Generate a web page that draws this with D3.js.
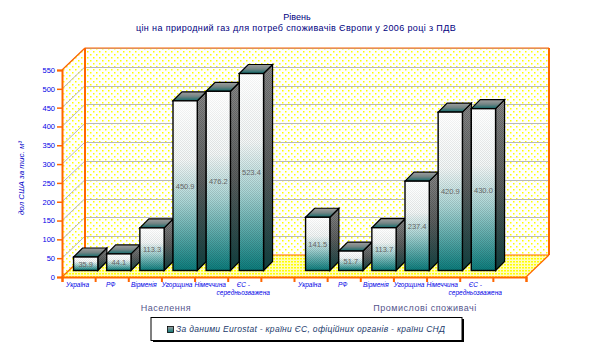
<!DOCTYPE html>
<html>
<head>
<meta charset="utf-8">
<script src="https://cdn.jsdelivr.net/npm/d3@7"></script>
<style>
  html, body { margin: 0; padding: 0; background: #fff; }
  svg { display: block; }
  text { font-family: "Liberation Sans", Arial, sans-serif; }
</style>
</head>
<body>
<div id="chart"></div>
<script>
const categories = ["Україна", "РФ", "Вірменія", "Угорщина", "Німеччина", "ЄС -|середньозважена"];
const populationValues = [35.9, 44.1, 113.3, 450.9, 476.2, 523.4];
const industryValues = [141.5, 51.7, 113.7, 237.4, 420.9, 430.0];
const groupLabels = ["Населення", "Промислові споживачі"];
const yTicks = [0, 50, 100, 150, 200, 250, 300, 350, 400, 450, 500, 550];

const WIDTH = 590, HEIGHT = 363;
const ORANGE = "#ff6600";
const DEPTH_X = 23, DEPTH_Y = 22;
const BAR_DEPTH = 9, BAR_OFFSET_X = 7, BAR_OFFSET_Y = 6.5;

const svg = d3.select("#chart").append("svg")
    .attr("width", WIDTH)
    .attr("height", HEIGHT);
const defs = svg.append("defs");

const y = d3.scaleLinear().domain([0, 550]).range([277, 70]);
const xEdge = d3.scaleLinear().domain([0, 14]).range([62, 526]);
const x = d3.scaleBand().domain(d3.range(14)).range([62, 526]).padding(0.13);

// dotted yellow wall fill
const dots = defs.append("pattern").attr("id", "dots")
    .attr("width", 6).attr("height", 6).attr("patternUnits", "userSpaceOnUse");
dots.append("rect").attr("width", 6).attr("height", 6).attr("fill", "#ffffff");
[[0, 0], [3, 3]].forEach(p => dots.append("rect")
    .attr("x", p[0]).attr("y", p[1]).attr("width", 1.5).attr("height", 1.5).attr("fill", "#ffff00"));

const floorDots = defs.append("pattern").attr("id", "floorDots")
    .attr("width", 3).attr("height", 3).attr("patternUnits", "userSpaceOnUse");
floorDots.append("rect").attr("width", 3).attr("height", 3).attr("fill", "#fffcc0");
floorDots.append("rect").attr("width", 2).attr("height", 1.5).attr("fill", "#ffff00");

// dither used over the bars
const dither = defs.append("pattern").attr("id", "dither")
    .attr("width", 2).attr("height", 2).attr("patternUnits", "userSpaceOnUse");
dither.append("rect").attr("width", 1).attr("height", 1).attr("fill", "#2a2a2a");
dither.append("rect").attr("x", 1).attr("y", 1).attr("width", 1).attr("height", 1).attr("fill", "#2a2a2a");

function gradient(id, stops) {
    const g = defs.append("linearGradient").attr("id", id)
        .attr("x1", 0).attr("y1", 0).attr("x2", 0).attr("y2", 1);
    stops.forEach(s => g.append("stop").attr("offset", s[0]).attr("stop-color", s[1]));
}
gradient("frontFill", [[0, "#ffffff"], [0.35, "#f4f8f8"], [0.6, "#a9d6d6"], [1, "#067f7f"]]);
gradient("sideFill", [[0, "#8a8a8a"], [0.5, "#5c6060"], [1, "#0b4040"]]);
gradient("topFill", [[0, "#a0a0a0"], [0.5, "#748484"], [1, "#0f6a6a"]]);
gradient("swatchFill", [[0, "#a0a0a0"], [1, "#0a7a7a"]]);
gradient("ditherFade", [[0, "#222"], [0.45, "#666"], [1, "#aaa"]]);

defs.append("mask").attr("id", "ditherMask")
    .attr("maskContentUnits", "objectBoundingBox")
    .append("rect").attr("width", 1).attr("height", 1).attr("fill", "url(#ditherFade)");

// title
const title = svg.append("g").attr("text-anchor", "middle").attr("fill", "#000080").attr("font-size", 9);
title.append("text").attr("x", 297).attr("y", 20).text("Рівень");
title.append("text").attr("x", 296).attr("y", 30.5).attr("letter-spacing", 0.37)
    .text("цін на природний газ для потреб споживачів Європи у 2006 році з ПДВ");

// walls and floor
const backX = xEdge(0) + DEPTH_X, backR = xEdge(14) + DEPTH_X;
const backTop = y(550) - DEPTH_Y, backBase = y(0) - DEPTH_Y;

svg.append("rect").attr("x", backX).attr("y", backTop)
    .attr("width", backR - backX).attr("height", backBase - backTop).attr("fill", "url(#dots)");
svg.append("polygon")
    .attr("points", [[xEdge(0), y(550)], [backX, backTop], [backX, backBase], [xEdge(0), y(0)]].join(" "))
    .attr("fill", "url(#dots)");
svg.append("polygon")
    .attr("points", [[xEdge(0), y(0)], [backX, backBase], [backR, backBase], [xEdge(14), y(0)]].join(" "))
    .attr("fill", "url(#floorDots)");

// grid on back wall and side wall
const grid = svg.append("g").attr("stroke", "#b8b8b8").attr("stroke-width", 1);
grid.selectAll("line.h").data(yTicks.filter(d => d > 0)).enter().append("line")
    .attr("class", "h")
    .attr("x1", backX).attr("x2", backR)
    .attr("y1", d => Math.round(y(d) - DEPTH_Y) + 0.5)
    .attr("y2", d => Math.round(y(d) - DEPTH_Y) + 0.5);
grid.selectAll("line.d").data(yTicks.filter(d => d > 0)).enter().append("line")
    .attr("class", "d")
    .attr("x1", xEdge(0)).attr("x2", backX)
    .attr("y1", d => y(d))
    .attr("y2", d => y(d) - DEPTH_Y);

// orange frame
const frame = svg.append("g").attr("stroke", ORANGE).attr("fill", "none");
frame.append("path").attr("stroke-width", 2)
    .attr("d", `M${backX},${backBase}V${backTop}`);
frame.append("path").attr("stroke-width", 1.2)
    .attr("d", `M${backX},${backTop}H${backR}M${backX},${backBase}H${backR}`);
frame.append("path").attr("stroke-width", 2)
    .attr("d", `M${backR},${backTop}V${backBase}`);
frame.append("path").attr("stroke-width", 1.2)
    .attr("d", `M${xEdge(0)},${y(550)}L${backX},${backTop}M${xEdge(0)},${y(0)}L${backX},${backBase}M${xEdge(14)},${y(0)}L${backR},${backBase}`);

// bars
function drawBars(values, start) {
    const g = svg.append("g");
    values.forEach((v, i) => {
        const slot = start + i;
        const x0 = xEdge(slot + 0.5) - x.bandwidth() * 0.42 + BAR_OFFSET_X;
        const w = x.bandwidth() * 0.85;
        const top = y(v) - BAR_OFFSET_Y, base = y(0) - BAR_OFFSET_Y;
        const bar = g.append("g");

        const side = [[x0 + w, top], [x0 + w + BAR_DEPTH, top - BAR_DEPTH],
            [x0 + w + BAR_DEPTH, base - BAR_DEPTH], [x0 + w, base]].join(" ");
        const cap = [[x0, top], [x0 + BAR_DEPTH, top - BAR_DEPTH],
            [x0 + w + BAR_DEPTH, top - BAR_DEPTH], [x0 + w, top]].join(" ");

        bar.append("polygon").attr("points", side).attr("fill", "url(#sideFill)");
        bar.append("polygon").attr("points", side).attr("fill", "url(#dither)").attr("opacity", 0.3);
        bar.append("polygon").attr("points", side).attr("fill", "none").attr("stroke", "#000").attr("stroke-width", 1.2);
        bar.append("polygon").attr("points", cap).attr("fill", "url(#topFill)");
        bar.append("polygon").attr("points", cap).attr("fill", "none").attr("stroke", "#000").attr("stroke-width", 1.2);

        bar.append("rect").attr("x", x0).attr("y", top).attr("width", w).attr("height", base - top)
            .attr("fill", "url(#frontFill)");
        bar.append("rect").attr("x", x0).attr("y", top).attr("width", w).attr("height", base - top)
            .attr("fill", "url(#dither)").attr("opacity", 0.35).attr("mask", "url(#ditherMask)");
        bar.append("rect").attr("x", x0).attr("y", top).attr("width", w).attr("height", base - top)
            .attr("fill", "none").attr("stroke", "#000").attr("stroke-width", 1.4);

        bar.append("text")
            .attr("x", x0 + w / 2).attr("y", (top + base) / 2 + 3)
            .attr("text-anchor", "middle")
            .attr("font-size", 7.5)
            .attr("fill", "#666")
            .text(v.toFixed(1));
    });
}
drawBars(populationValues, 0);
drawBars(industryValues, 7);

// axes
const yAxis = svg.append("g").attr("transform", `translate(${xEdge(0)},0)`)
    .call(d3.axisLeft(y).tickValues(yTicks).tickSize(5).tickPadding(2));
yAxis.select(".domain").attr("stroke", ORANGE).attr("stroke-width", 2);
yAxis.selectAll(".tick line").attr("stroke", ORANGE).attr("stroke-width", 1.5);
yAxis.selectAll(".tick text").attr("fill", "#0000e6").attr("font-size", 7.5)
    .attr("font-family", "Liberation Sans");

const xAxis = svg.append("g").attr("transform", `translate(0,${y(0)})`)
    .call(d3.axisBottom(xEdge).tickValues(d3.range(15)).tickFormat("").tickSize(5));
xAxis.select(".domain").attr("stroke", ORANGE).attr("stroke-width", 2);
xAxis.selectAll(".tick line").attr("stroke", ORANGE).attr("stroke-width", 2);

// category labels
[0, 7].forEach(start => {
    categories.forEach((c, i) => {
        const t = svg.append("text")
            .attr("text-anchor", "middle")
            .attr("font-size", 6.5)
            .attr("font-style", "italic")
            .attr("fill", "#0000e6");
        c.split("|").forEach((part, k) => {
            t.append("tspan")
                .attr("x", xEdge(start + i + 0.5) - 1)
                .attr("y", 287 + k * 7.5)
                .text(part);
        });
    });
});

// group labels
const groupX = [166, 425];
svg.selectAll("text.group").data(groupLabels).enter().append("text")
    .attr("class", "group")
    .attr("x", (d, i) => groupX[i])
    .attr("y", 311)
    .attr("text-anchor", "middle")
    .attr("font-size", 9)
    .attr("letter-spacing", 0.5)
    .attr("fill", "#55558c")
    .text(d => d);

// y title
svg.append("text")
    .attr("transform", "translate(24,178) rotate(-90)")
    .attr("text-anchor", "middle")
    .attr("font-size", 8)
    .attr("font-style", "italic")
    .attr("fill", "#0000c8")
    .text("дол США за тис. м³");

// legend
const legend = svg.append("g");
legend.append("rect").attr("x", 153).attr("y", 319).attr("width", 311).attr("height", 23).attr("fill", "#000");
legend.append("rect").attr("x", 151).attr("y", 317.5).attr("width", 311).attr("height", 23)
    .attr("fill", "#fff").attr("stroke", "#000").attr("stroke-width", 1);
legend.append("rect").attr("x", 167.5).attr("y", 326.5).attr("width", 6).attr("height", 6)
    .attr("fill", "url(#swatchFill)").attr("stroke", "#000").attr("stroke-width", 0.8);
legend.append("text").attr("x", 176).attr("y", 332)
    .attr("font-size", 8.5)
    .attr("font-style", "italic")
    .attr("letter-spacing", 0.3)
    .attr("fill", "#1b3a6b")
    .text("За даними Eurostat - країни ЄС, офіційних органів - країни СНД");
</script>
</body>
</html>
